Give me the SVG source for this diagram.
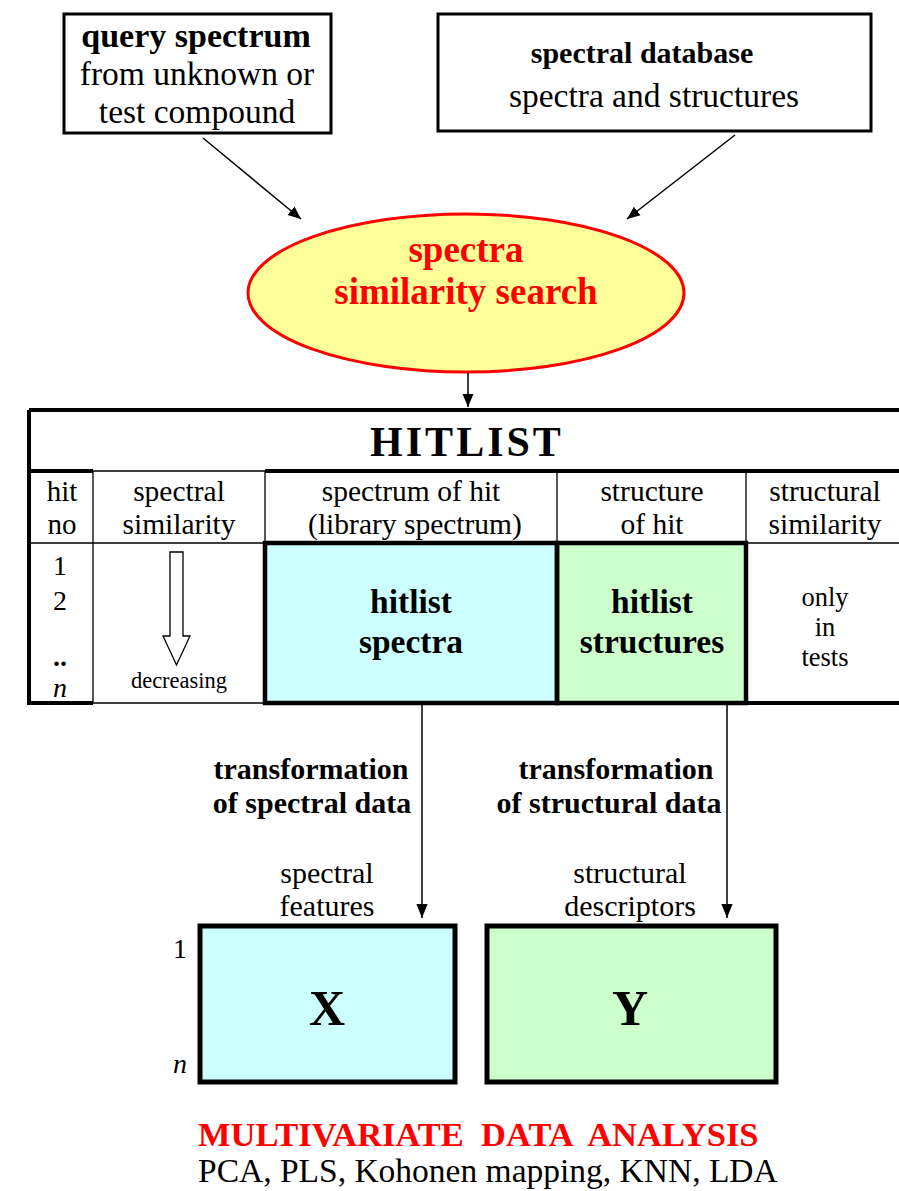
<svg xmlns="http://www.w3.org/2000/svg" width="899" height="1191" viewBox="0 0 899 1191" font-family="Liberation Serif, serif">
  <style>
    text { font-family: 'Liberation Serif', 'Times New Roman', serif; fill: #000; text-anchor: middle; }
    text.start { text-anchor: start; }
    .b { font-weight: bold; }
    .red { fill: #ff0000; }
    .box { fill: #fff; stroke: #000; stroke-width: 3; }
    .grid { stroke: #000; stroke-width: 1.3; fill: none; }
    .thick { stroke: #000; stroke-width: 4; fill: none; }
    .cell { fill: none; stroke: #000; stroke-width: 4.5; }
    .conn { stroke: #000; stroke-width: 1.5; fill: none; }
  </style>
  <defs>
    <marker id="arr" viewBox="0 0 10 10" refX="10" refY="5" markerWidth="13" markerHeight="13" markerUnits="userSpaceOnUse" orient="auto">
      <path d="M0,0.8 L10,5 L0,9.2 z" fill="#000"/>
    </marker>
    <marker id="arrL" viewBox="0 0 10 10" refX="10" refY="5" markerWidth="14" markerHeight="14" markerUnits="userSpaceOnUse" orient="auto">
      <path d="M0,1 L10,5 L0,9 z" fill="#000"/>
    </marker>
  </defs>

  <!-- input boxes -->
  <g id="query">
    <rect class="box" x="64" y="14" width="267" height="119"/>
    <text class="b" x="196" y="47" font-size="34">query spectrum</text>
    <text x="197" y="85" font-size="33.5">from unknown or</text>
    <text x="197" y="123" font-size="33.5">test compound</text>
  </g>
  <g id="database">
    <rect class="box" x="438" y="14" width="433" height="117"/>
    <text class="b" x="642" y="63" font-size="30">spectral database</text>
    <text x="654" y="107" font-size="33.5">spectra and structures</text>
  </g>

  <!-- search -->
  <g id="search">
    <ellipse cx="466" cy="293" rx="218" ry="79" fill="#ffff99" stroke="#ff0000" stroke-width="3"/>
    <text class="b red" x="466" y="262" font-size="37">spectra</text>
    <text class="b red" x="466" y="304" font-size="37">similarity search</text>
  </g>

  <!-- hitlist table -->
  <g id="hitlist">
    <rect x="265" y="543" width="292" height="160" fill="#ccffff"/>
    <rect x="557" y="543" width="189" height="160" fill="#ccffcc"/>
    <!-- outer frame and rules -->
    <path class="thick" d="M29,410 H905 M29,410 V703 M27,703 H93 M265,703 H905 M27,471 H93 M265,471 H905"/>
    <path class="grid" d="M93,471 H265 M93,703 H265 M29,543 H265 M746,543 H905 M93,471 V703 M265,471 V543 M557,471 V543 M746,471 V543"/>
    <rect class="cell" x="265" y="543" width="292" height="160"/>
    <rect class="cell" x="557" y="543" width="189" height="160"/>
    <text class="b" x="467" y="456" font-size="42" letter-spacing="3">HITLIST</text>
    <text x="62" y="501" font-size="29">hit</text>
    <text x="62" y="534" font-size="29">no</text>
    <text x="179" y="501" font-size="29.5">spectral</text>
    <text x="179" y="534" font-size="29.5">similarity</text>
    <text x="411" y="501" font-size="29.5">spectrum of hit</text>
    <text x="415" y="534" font-size="29.5">(library spectrum)</text>
    <text x="652" y="501" font-size="29.5">structure</text>
    <text x="652" y="534" font-size="29.5">of hit</text>
    <text x="825" y="501" font-size="29.5">structural</text>
    <text x="825" y="534" font-size="29.5">similarity</text>
    <text x="60" y="575" font-size="28">1</text>
    <text x="60" y="610" font-size="28">2</text>
    <text x="60" y="666" font-size="28" class="b">..</text>
    <text x="60" y="697" font-size="28" font-style="italic">n</text>
    <path d="M170,552 H183 V636 H190 L176.5,665 L163,636 H170 Z" fill="#fff" stroke="#000" stroke-width="1.3"/>
    <text x="179" y="688" font-size="22.5">decreasing</text>
    <text class="b" x="411" y="613" font-size="33.5">hitlist</text>
    <text class="b" x="411" y="653" font-size="33.5">spectra</text>
    <text class="b" x="652" y="613" font-size="33.5">hitlist</text>
    <text class="b" x="652" y="653" font-size="33.5">structures</text>
    <text x="825" y="606" font-size="26.5">only</text>
    <text x="825" y="636" font-size="26.5">in</text>
    <text x="825" y="666" font-size="26.5">tests</text>
  </g>

  <!-- data matrices -->
  <g id="matrixX">
    <rect x="200" y="926" width="255" height="156" fill="#ccffff" stroke="#000" stroke-width="5"/>
    <text class="b" x="327" y="1025" font-size="50">X</text>
    <text x="180" y="958" font-size="28">1</text>
    <text x="180" y="1073" font-size="28" font-style="italic">n</text>
  </g>
  <g id="matrixY">
    <rect x="487" y="926" width="289" height="156" fill="#ccffcc" stroke="#000" stroke-width="5"/>
    <text class="b" x="630" y="1025" font-size="50">Y</text>
  </g>

  <!-- connectors and their labels -->
  <g id="connectors">
    <line class="conn" x1="203" y1="138" x2="301" y2="219" marker-end="url(#arr)"/>
    <line class="conn" x1="735" y1="135" x2="627" y2="219" marker-end="url(#arr)"/>
    <line class="conn" x1="468" y1="373" x2="468" y2="407" marker-end="url(#arr)"/>
    <line class="conn" x1="422" y1="705" x2="422" y2="918" marker-end="url(#arrL)"/>
    <line class="conn" x1="727" y1="705" x2="727" y2="918" marker-end="url(#arrL)"/>
    <text class="b" x="311" y="779" font-size="30">transformation</text>
    <text class="b" x="312" y="813" font-size="30">of spectral data</text>
    <text class="b" x="616" y="779" font-size="30">transformation</text>
    <text class="b" x="609" y="813" font-size="30">of structural data</text>
    <text x="327" y="883" font-size="30">spectral</text>
    <text x="327" y="916" font-size="30">features</text>
    <text x="630" y="883" font-size="30">structural</text>
    <text x="630" y="916" font-size="30">descriptors</text>
  </g>

  <!-- methods -->
  <g id="analysis">
    <text class="b red start" x="198" y="1146" font-size="34.5" xml:space="preserve">MULTIVARIATE  DATA  ANALYSIS</text>
    <text class="start" x="198" y="1182" font-size="33.5">PCA, PLS, Kohonen mapping, KNN, LDA</text>
  </g>
</svg>
